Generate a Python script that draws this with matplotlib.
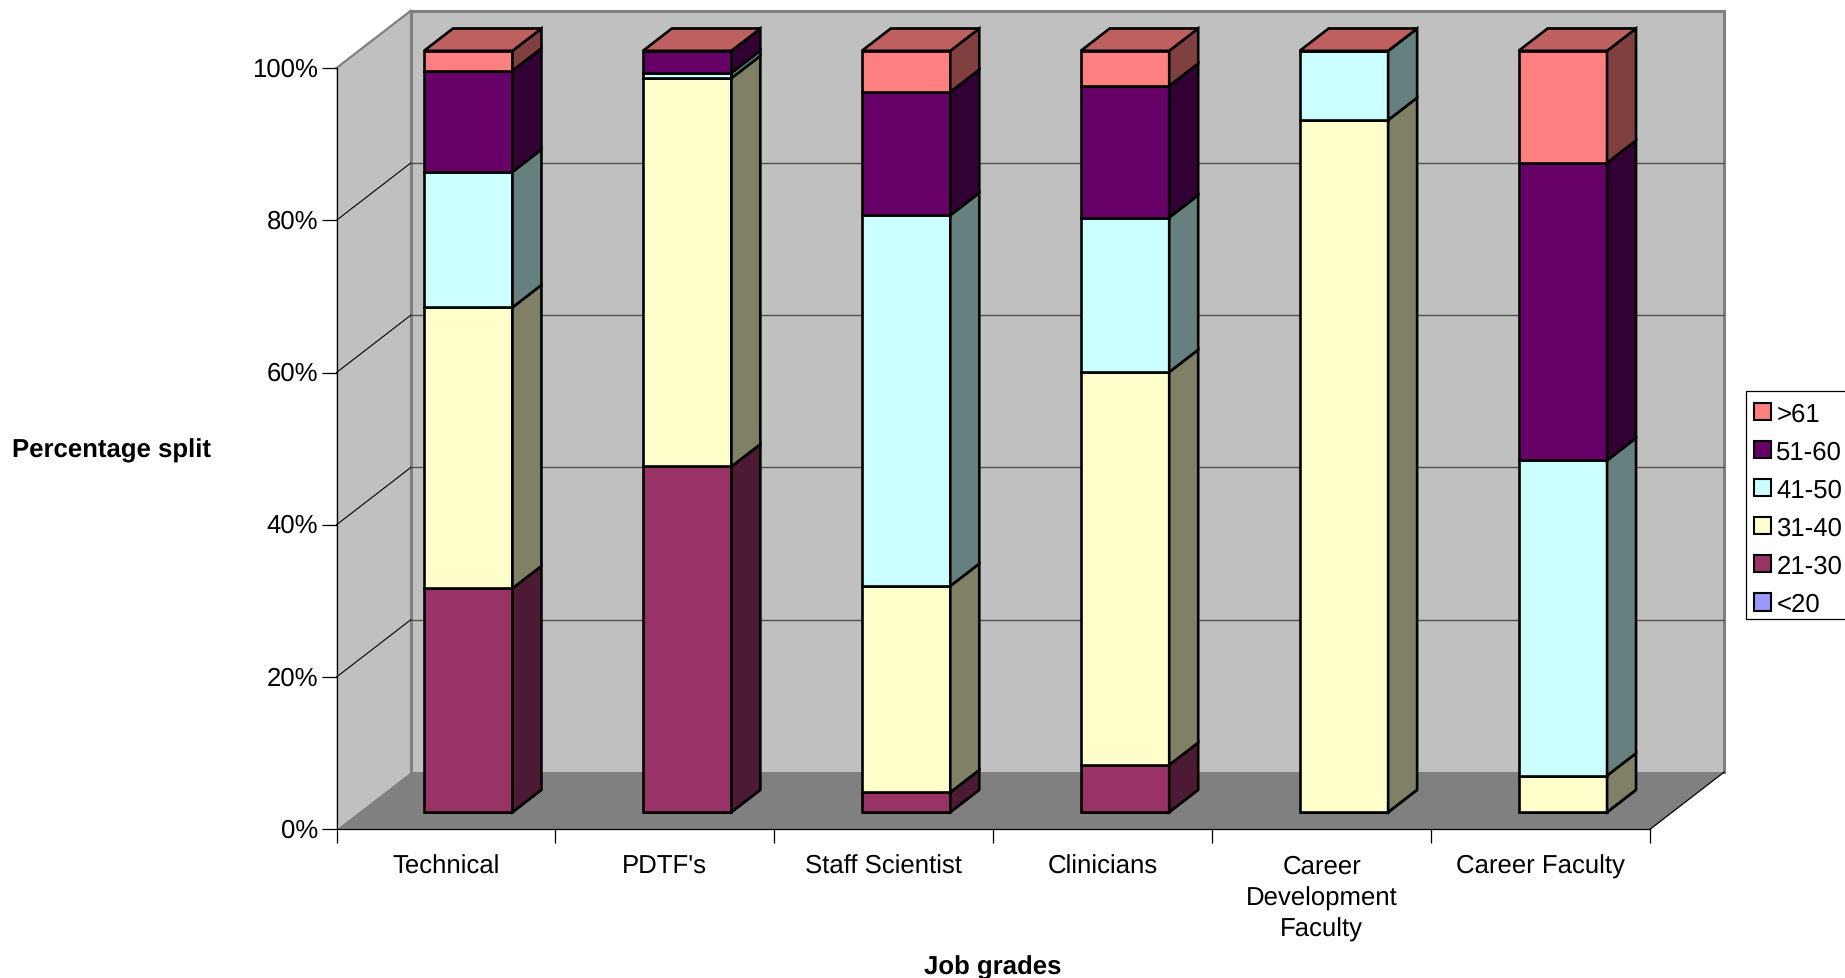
import matplotlib
matplotlib.use("Agg")
import matplotlib.pyplot as plt
from matplotlib.patches import Patch, Polygon, Rectangle
from matplotlib.transforms import ScaledTranslation

# job grades along the bottom
grades = ["Technical", "PDTF's", "Staff Scientist", "Clinicians",
          "Career\nDevelopment\nFaculty", "Career Faculty"]

# percentage in each age band per job grade
under_20 = [0, 0, 0, 0, 0, 0]
age_21_30 = [29.4, 45.4, 2.6, 6.2, 0, 0]
age_31_40 = [36.9, 51.0, 27.1, 51.6, 90.9, 4.8]
age_41_50 = [17.8, 0.7, 48.7, 20.3, 9.1, 41.4]
age_51_60 = [13.3, 2.9, 16.2, 17.3, 0, 39.1]
over_61 = [2.6, 0, 5.4, 4.6, 0, 14.7]

bands = [under_20, age_21_30, age_31_40, age_41_50, age_51_60, over_61]
band_names = ["<20", "21-30", "31-40", "41-50", "51-60", ">61"]
colours = ["#9999FF", "#993366", "#FFFFCC", "#CCFFFF", "#660066", "#FF8080"]

percent_ticks = [0, 20, 40, 60, 80, 100]
percent_labels = ["0%", "20%", "40%", "60%", "80%", "100%"]

plt.rcParams["font.family"] = ["Liberation Sans", "DejaVu Sans"]
plt.rcParams["font.size"] = 18.5
plt.rcParams["text.hinting"] = "no_hinting"

W, H = 1845, 979
front_bottom = 830.3  # pixels from the top of the figure
fig = plt.figure(figsize=(W / 100, H / 100), dpi=100)
# the axes rectangle is the front plane of the box
ax = fig.add_axes([336.5 / W, (H - front_bottom) / H, 1313.5 / W, 761.3 / H])
ax.set_xlim(0, 6)
ax.set_ylim(0, 100)
ax.patch.set_visible(False)
ax.spines["top"].set_visible(False)
ax.spines["right"].set_visible(False)
ax.spines["left"].set_linewidth(0.9)
ax.spines["bottom"].set_linewidth(0.9)

# how far the back wall sits from the front plane, in data units
depth_x = 0.3394
depth_y = 7.527


def shift(x, y, d):
    return (x + d * depth_x, y + d * depth_y)


def shape(points, **kw):
    ax.add_patch(Polygon(points, closed=True, clip_on=False, **kw))


def darker(colour, k):
    rgb = matplotlib.colors.to_rgb(colour)
    return tuple(c * k for c in rgb)


# floor, side wall, back wall
shape([(0, 0), (6, 0), shift(6, 0, 1), shift(0, 0, 1)],
      facecolor="#808080", edgecolor="none", zorder=1)
shape([(0, 0), shift(0, 0, 1), shift(0, 100, 1), (0, 100)],
      facecolor="#C0C0C0", edgecolor="none", zorder=1)
shape([shift(0, 0, 1), shift(6, 0, 1), shift(6, 100, 1), shift(0, 100, 1)],
      facecolor="#C0C0C0", edgecolor="none", zorder=1)

# wall outline
xs, ys = zip(shift(0, 0, 1), shift(0, 100, 1), shift(6, 100, 1), shift(6, 0, 1))
ax.plot(xs, ys, color="#808080", lw=2.2, clip_on=False, zorder=1.5,
        solid_joinstyle="miter")
xs, ys = zip((0, 100), shift(0, 100, 1))
ax.plot(xs, ys, color="#808080", lw=1.6, clip_on=False, zorder=1.5)
xs, ys = zip((6, 0), shift(6, 0, 1))
ax.plot(xs, ys, color="black", lw=0.9, clip_on=False, zorder=1.5)

# gridlines across the back wall and down the side wall
for p in percent_ticks[1:-1]:
    xs, ys = zip(shift(0, p, 1), shift(6, p, 1))
    ax.plot(xs, ys, color="#505050", lw=1.0, clip_on=False, zorder=1.6)
    xs, ys = zip((0, p), shift(0, p, 1))
    ax.plot(xs, ys, color="black", lw=0.8, clip_on=False, zorder=1.6)

# bar placement inside each category slot
gap = 0.298
bar_w = 0.404
near = 0.30
far = 0.69
edge_w = 1.9

bottoms = [0.0] * len(grades)
z = 3
for values, colour in zip(bands, colours):
    for i, v in enumerate(values):
        left, base = shift(i + gap, bottoms[i], near)
        ax.bar(left, v, width=bar_w, bottom=base, align="edge", color=colour,
               edgecolor="black", linewidth=edge_w, clip_on=False, zorder=z)
        # right hand side of the segment
        r0 = shift(i + gap + bar_w, bottoms[i], near)
        r1 = shift(i + gap + bar_w, bottoms[i], far)
        r2 = shift(i + gap + bar_w, bottoms[i] + v, far)
        r3 = shift(i + gap + bar_w, bottoms[i] + v, near)
        shape([r0, r1, r2, r3], facecolor=darker(colour, 0.5),
              edgecolor="black", linewidth=edge_w, joinstyle="miter", zorder=z)
        bottoms[i] += v
    z += 1

# lids are drawn for the last series, even where its value is zero
for i in range(len(grades)):
    t0 = shift(i + gap, bottoms[i], near)
    t1 = shift(i + gap + bar_w, bottoms[i], near)
    t2 = shift(i + gap + bar_w, bottoms[i], far)
    t3 = shift(i + gap, bottoms[i], far)
    shape([t0, t1, t2, t3], facecolor=darker(colours[-1], 0.75),
          edgecolor="black", linewidth=edge_w, joinstyle="miter", zorder=z)

# ticks
ax.set_yticks(percent_ticks)
ax.set_yticklabels(percent_labels)
ax.tick_params(axis="y", length=10.6, width=0.9, pad=2.5)
# nudge the percent labels up a little
nudge = ScaledTranslation(0, 2.0 / 100, fig.dpi_scale_trans)
for lab in ax.get_yticklabels():
    lab.set_transform(lab.get_transform() + nudge)
ax.set_xticks(range(len(grades) + 1))
ax.set_xticklabels([])
ax.set_xticks([i + 0.5 for i in range(len(grades))], minor=True)
ax.set_xticklabels(grades, minor=True, linespacing=1.38, va="top")
ax.tick_params(axis="x", which="major", length=10.2, width=0.9)
ax.tick_params(axis="x", which="minor", length=0, pad=17.8)

ax.set_xlabel("Job grades", fontweight="bold", va="center")
ax.xaxis.set_label_coords((993 - 336.5) / 1313.5, (front_bottom - 968) / 761.3)
ax.set_ylabel("Percentage split", fontweight="bold", rotation=0, ha="center", va="center")
ax.yaxis.set_label_coords((111 - 336.5) / 1313.5, (front_bottom - 451) / 761.3)

# legend box runs off the right edge, so it is drawn on its own
fig.add_artist(Rectangle((1745.7 / W, (H - 620) / H), 110 / W, 228.3 / H,
                         transform=fig.transFigure, facecolor="white",
                         edgecolor="black", linewidth=0.9, zorder=5))
handles = [Patch(facecolor=c, edgecolor="black", linewidth=1.5) for c in colours[::-1]]
fig.legend(handles, band_names[::-1], loc="upper left",
           bbox_to_anchor=(1745.7 / W, (H - 394) / H), borderaxespad=0,
           frameon=False, borderpad=0.33, labelspacing=0.54, handlelength=0.66,
           handleheight=0.66, handletextpad=0.2, fontsize=18.5).set_zorder(6)

plt.savefig("out.png", dpi=100)
